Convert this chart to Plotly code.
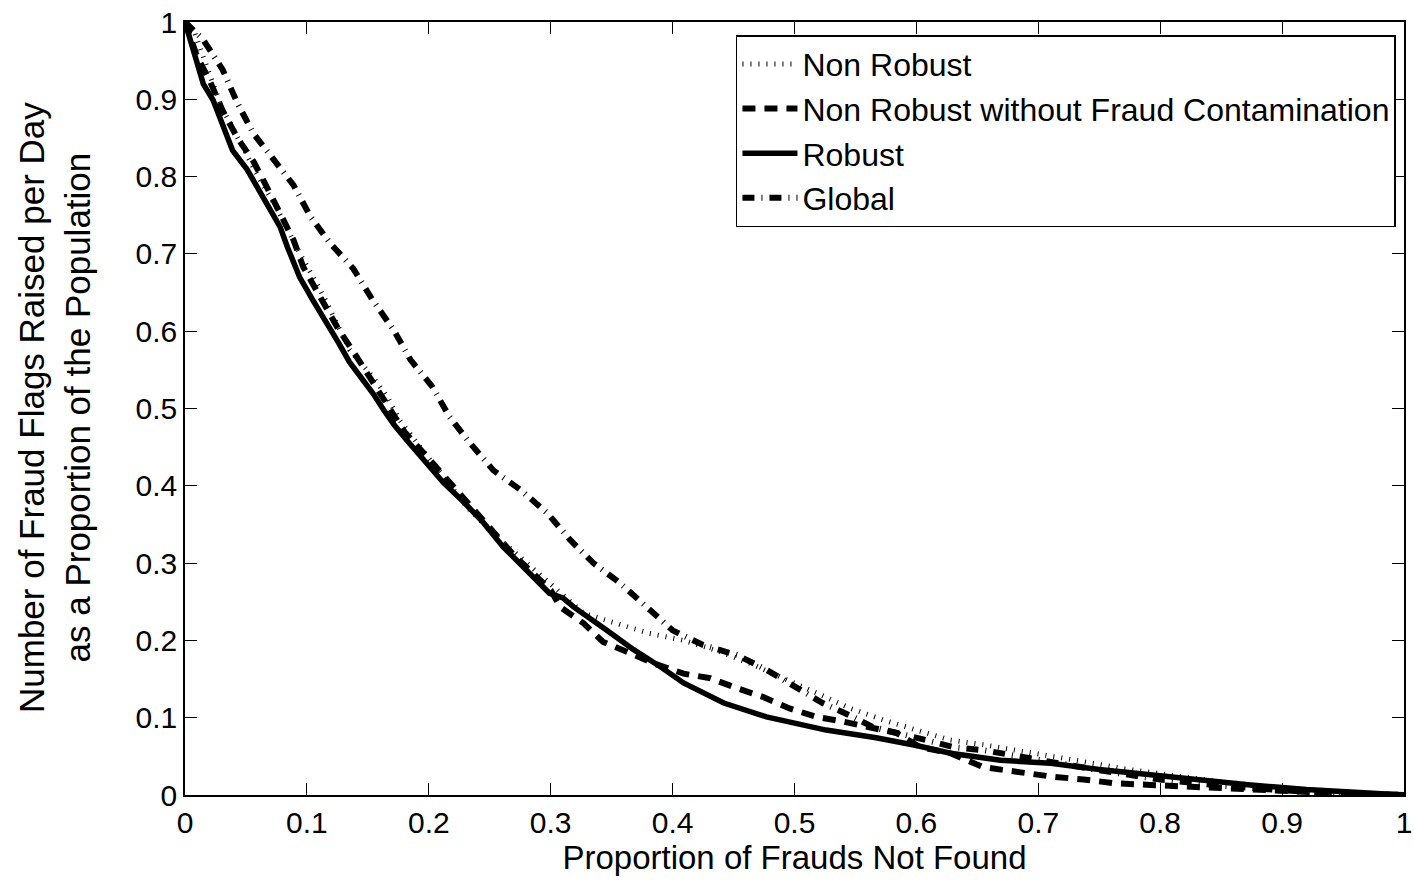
import plotly.graph_objects as go

# ---- data ----
robust_x = [0, 0.008, 0.015, 0.023, 0.031, 0.039, 0.051, 0.064, 0.07, 0.078, 0.084, 0.094, 0.105, 0.115,
            0.126, 0.135, 0.144, 0.154, 0.163, 0.172, 0.182, 0.195, 0.212, 0.228, 0.245, 0.261, 0.28, 0.299,
            0.31, 0.319, 0.346, 0.368, 0.39, 0.409, 0.442, 0.477, 0.526, 0.567, 0.6, 0.628, 0.669, 0.71,
            0.75, 0.792, 0.833, 0.874, 0.92, 0.96, 1.0]
robust_y = [1.0, 0.96, 0.92, 0.899, 0.864, 0.834, 0.809, 0.774, 0.76, 0.735, 0.709, 0.67, 0.64, 0.615,
            0.585, 0.56, 0.541, 0.52, 0.498, 0.478, 0.459, 0.435, 0.404, 0.38, 0.352, 0.321, 0.29, 0.261,
            0.255, 0.243, 0.213, 0.188, 0.166, 0.145, 0.119, 0.101, 0.084, 0.074, 0.064, 0.054, 0.045, 0.041,
            0.033, 0.026, 0.019, 0.013, 0.007, 0.003, 0.0]

nrwo_x = [0, 0.01, 0.02, 0.031, 0.043, 0.056, 0.066, 0.078, 0.089, 0.097, 0.11, 0.125, 0.144, 0.16, 0.18,
          0.2, 0.22, 0.245, 0.27, 0.3, 0.308, 0.327, 0.343, 0.363, 0.385, 0.409, 0.431, 0.453, 0.474, 0.496,
          0.518, 0.54, 0.562, 0.584, 0.603, 0.628, 0.655, 0.682, 0.71, 0.737, 0.764, 0.792, 0.819, 0.846,
          0.9, 0.95, 1.0]
nrwo_y = [1.0, 0.955, 0.925, 0.885, 0.85, 0.82, 0.79, 0.753, 0.718, 0.683, 0.645, 0.605, 0.559, 0.52, 0.47,
          0.435, 0.4, 0.355, 0.31, 0.265, 0.243, 0.222, 0.198, 0.185, 0.17, 0.157, 0.151, 0.138, 0.127, 0.112,
          0.101, 0.095, 0.087, 0.08, 0.062, 0.054, 0.036, 0.03, 0.024, 0.02, 0.015, 0.013, 0.011, 0.009,
          0.005, 0.002, 0.0]

global_x = [0, 0.015, 0.031, 0.043, 0.056, 0.072, 0.089, 0.103, 0.119, 0.138, 0.154, 0.171, 0.185, 0.203,
            0.217, 0.234, 0.253, 0.275, 0.297, 0.316, 0.335, 0.357, 0.379, 0.4, 0.425, 0.453, 0.477, 0.502,
            0.523, 0.548, 0.564, 0.608, 0.63, 0.655, 0.7, 0.75, 0.8, 0.85, 0.9, 0.95, 1.0]
global_y = [1.0, 0.977, 0.938, 0.895, 0.856, 0.825, 0.789, 0.748, 0.714, 0.681, 0.64, 0.602, 0.563, 0.528,
            0.489, 0.455, 0.42, 0.395, 0.365, 0.33, 0.3, 0.274, 0.243, 0.213, 0.194, 0.181, 0.162, 0.138,
            0.119, 0.101, 0.088, 0.071, 0.062, 0.058, 0.045, 0.032, 0.02, 0.012, 0.006, 0.002, 0.0]

nonrob_x = [0, 0.007, 0.018, 0.03, 0.045, 0.06, 0.075, 0.094, 0.108, 0.116, 0.135, 0.154, 0.166, 0.176,
            0.195, 0.212, 0.231, 0.256, 0.28, 0.299, 0.327, 0.354, 0.381, 0.409, 0.436, 0.464, 0.49, 0.518,
            0.546, 0.573, 0.6, 0.628, 0.655, 0.69, 0.73, 0.77, 0.81, 0.85, 0.9, 0.95, 1.0]
nonrob_y = [1.0, 0.99, 0.942, 0.89, 0.845, 0.8, 0.76, 0.701, 0.662, 0.638, 0.576, 0.541, 0.515, 0.485,
            0.446, 0.411, 0.373, 0.334, 0.3, 0.274, 0.235, 0.222, 0.209, 0.2, 0.187, 0.17, 0.151, 0.132,
            0.112, 0.097, 0.084, 0.071, 0.065, 0.055, 0.045, 0.034, 0.025, 0.017, 0.009, 0.003, 0.0]

tick_vals = [0, 0.1, 0.2, 0.3, 0.4, 0.5, 0.6, 0.7, 0.8, 0.9, 1]
tick_text = ["0", "0.1", "0.2", "0.3", "0.4", "0.5", "0.6", "0.7", "0.8", "0.9", "1"]

FONT = "Liberation Sans, Arial, sans-serif"

fig = go.Figure()
fig.add_trace(go.Scatter(x=nonrob_x, y=nonrob_y, mode="lines", name="Non Robust",
                         line=dict(color="black", width=5, dash="1px,7px")))
fig.add_trace(go.Scatter(x=nrwo_x, y=nrwo_y, mode="lines", name="Non Robust without Fraud Contamination",
                         line=dict(color="black", width=6, dash="13px,9px")))
fig.add_trace(go.Scatter(x=robust_x, y=robust_y, mode="lines", name="Robust",
                         line=dict(color="black", width=5.5)))
fig.add_trace(go.Scatter(x=global_x, y=global_y, mode="lines", name="Global",
                         line=dict(color="black", width=6, dash="12px,7px,1px,7px")))

axis_common = dict(
    range=[0, 1], tickvals=tick_vals, ticktext=tick_text, automargin=False,
    showgrid=False, zeroline=False,
    showline=True, linecolor="black", linewidth=1.5, mirror="ticks",
    ticks="inside", ticklen=12, tickwidth=1, tickcolor="black",
    tickfont=dict(family=FONT, size=30, color="black"),
)

fig.update_layout(
    width=1414, height=883,
    margin=dict(l=185, r=10, t=22, b=88),
    paper_bgcolor="white", plot_bgcolor="white",
    font=dict(family=FONT, color="black"),
    xaxis=dict(**axis_common,
               title=dict(text="Proportion of Frauds Not Found",
                          font=dict(family=FONT, size=33, color="black"), standoff=4)),
    yaxis=dict(**axis_common),
    annotations=[dict(text="Number of Fraud Flags Raised per Day<br>as a Proportion of the Population",
                      textangle=-90, xref="paper", yref="paper",
                      x=(54 - 185) / 1219, y=(795 - 408) / 773,
                      xanchor="center", yanchor="middle", showarrow=False,
                      font=dict(family=FONT, size=35, color="black"))],
    legend=dict(x=0.9934, y=0.983, xanchor="right", yanchor="top",
                bgcolor="white", bordercolor="black", borderwidth=1.5,
                font=dict(family=FONT, size=32, color="black"),
                tracegroupgap=0, itemwidth=55),
    showlegend=True,
)

fig.write_html("out.html")
